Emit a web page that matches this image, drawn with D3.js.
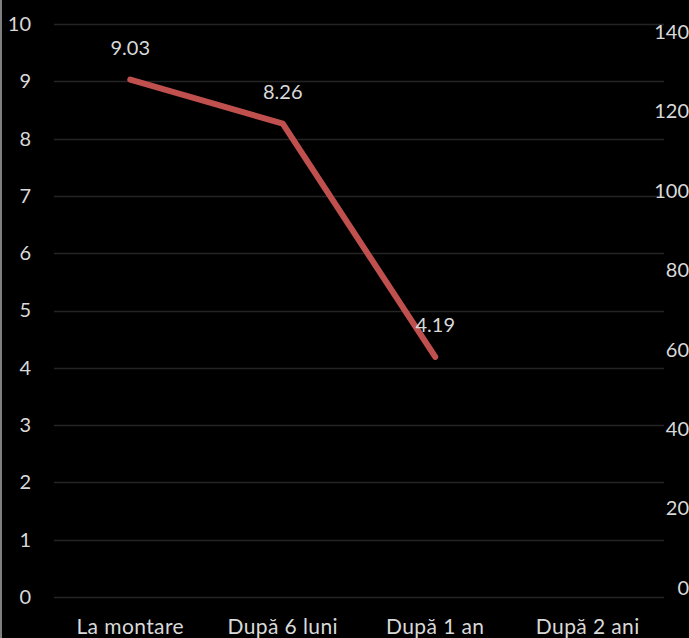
<!DOCTYPE html>
<html>
<head>
<meta charset="utf-8">
<script src="https://cdn.jsdelivr.net/npm/d3@7"></script>
<style>
  html, body { margin: 0; padding: 0; background: #000; overflow: hidden; }
  text { font-family: Lato, "Open Sans", sans-serif; fill: #d9d9d9; }
</style>
</head>
<body>
<div id="chart"></div>
<script>
// Date
const categories = ["La montare", "După 6 luni", "După 1 an", "După 2 ani"]
const values = [9.03, 8.26, 4.19, null]
const leftTicks = [0, 1, 2, 3, 4, 5, 6, 7, 8, 9, 10]
const rightTicks = [0, 20, 40, 60, 80, 100, 120, 140]

const WIDTH = 689
const HEIGHT = 638

const MARGIN = {
  top: 24,
  bot: 41,
  left: 54,
  right: 25
}

const svg = d3.select("#chart")
  .append("svg")
  .attr("width", WIDTH)
  .attr("height", HEIGHT)

svg.append("rect")
  .attr("width", WIDTH)
  .attr("height", HEIGHT)
  .attr("fill", "#000")

// margine stanga gri
svg.append("rect")
  .attr("x", 0)
  .attr("y", 0)
  .attr("width", 2)
  .attr("height", HEIGHT)
  .attr("fill", "#7f7f7f")

const xScale = d3.scaleBand()
  .domain(categories)
  .range([MARGIN.left, WIDTH - MARGIN.right])

const yScale = d3.scaleLinear()
  .domain([0, 10])
  .range([HEIGHT - MARGIN.bot, MARGIN.top])

const yScaleRight = d3.scaleLinear()
  .domain([0, 140])
  .range([588, 32])

// Grid
svg.append("g")
  .selectAll("line")
  .data(leftTicks)
  .join("line")
  .attr("x1", MARGIN.left)
  .attr("x2", WIDTH - MARGIN.right)
  .attr("y1", d => Math.round(yScale(d)) + 0.5)
  .attr("y2", d => Math.round(yScale(d)) + 0.5)
  .attr("stroke", "#242424")
  .attr("stroke-width", 1.3)

// Axe
const yAxis = d3.axisLeft(yScale)
  .tickValues(leftTicks)
  .tickSize(0)
  .tickPadding(0)

svg.append("g")
  .attr("transform", `translate(31, 0)`)
  .call(yAxis)
  .call(g => g.select(".domain").remove())
  .selectAll("text")
  .attr("font-size", 20)
  .attr("fill", "#d9d9d9")
  .style("font-family", "Lato, 'Open Sans', sans-serif")

const yAxisRight = d3.axisLeft(yScaleRight)
  .tickValues(rightTicks)
  .tickSize(0)
  .tickPadding(0)

svg.append("g")
  .attr("transform", `translate(689, 0)`)
  .call(yAxisRight)
  .call(g => g.select(".domain").remove())
  .selectAll("text")
  .attr("font-size", 20)
  .attr("fill", "#d9d9d9")
  .style("font-family", "Lato, 'Open Sans', sans-serif")

const xAxis = d3.axisBottom(xScale)
  .tickSize(0)
  .tickPadding(0)

svg.append("g")
  .attr("transform", `translate(0, 619)`)
  .call(xAxis)
  .call(g => g.select(".domain").remove())
  .selectAll("text")
  .attr("font-size", 21)
  .attr("letter-spacing", 0.4)
  .attr("dy", "0.71em")
  .attr("fill", "#d9d9d9")
  .style("font-family", "Lato, 'Open Sans', sans-serif")

// Linie
const points = categories
  .map((c, i) => ({ cat: c, value: values[i] }))
  .filter(d => d.value !== null)

const line = d3.line()
  .x(d => xScale(d.cat) + xScale.bandwidth() / 2)
  .y(d => yScale(d.value))

svg.append("path")
  .datum(points)
  .attr("d", line)
  .attr("fill", "none")
  .attr("stroke", "#c0504d")
  .attr("stroke-width", 6)
  .attr("stroke-linecap", "round")
  .attr("stroke-linejoin", "round")

// Etichete
svg.append("g")
  .selectAll("text")
  .data(points)
  .join("text")
  .attr("x", d => xScale(d.cat) + xScale.bandwidth() / 2)
  .attr("y", d => yScale(d.value) - 25)
  .attr("text-anchor", "middle")
  .attr("font-size", 20)
  .text(d => d.value.toFixed(2))
</script>
</body>
</html>
